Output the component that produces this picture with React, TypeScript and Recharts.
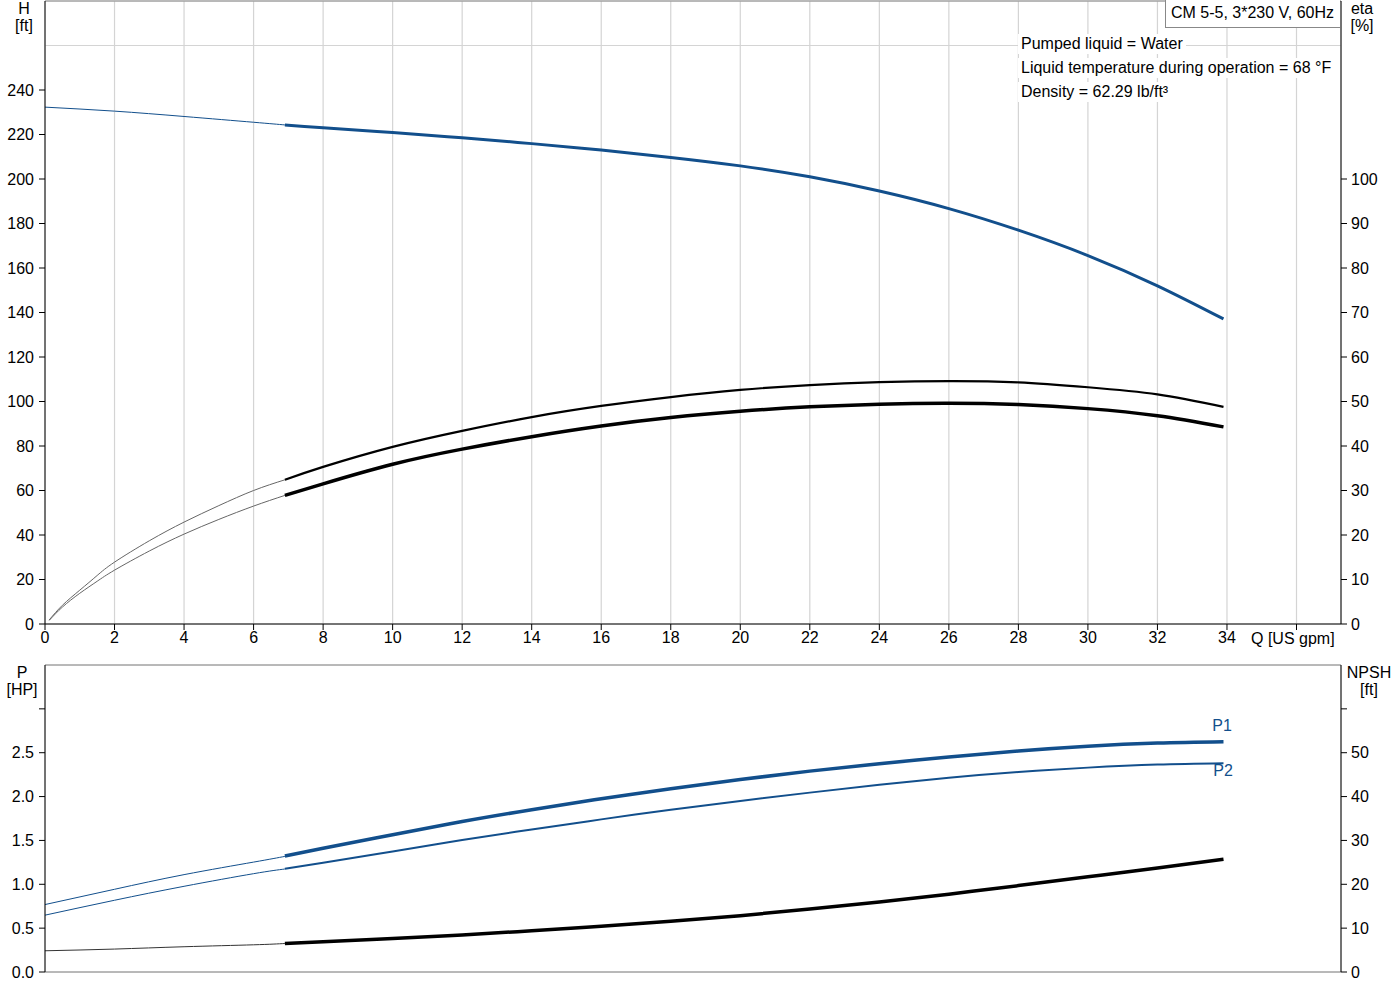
import React from "react";
import {
  LineChart,
  Line,
  XAxis,
  YAxis,
  CartesianGrid,
  ReferenceLine,
} from "recharts";

// Flow (US gpm)
const qTicks = [0, 2, 4, 6, 8, 10, 12, 14, 16, 18, 20, 22, 24, 26, 28, 30, 32, 34, 36];
const qStart = [0, 2, 4, 6, 6.9];
const qStartEta = [0.12, 0.5, 1, 1.5, 2, 3, 4, 5, 6, 6.9];
const qDuty = [6.9, 8, 10, 12, 14, 16, 18, 20, 22, 24, 26, 28, 30, 32, 33.9];

// Head H [ft]
const headStart = [232.3, 230.5, 228.1, 225.5, 224.3];
const headDuty = [224.3, 223.0, 220.9, 218.5, 215.9, 213.0, 209.7, 205.9, 201.0, 194.6, 186.7, 177.0, 165.6, 152.0, 137.1];

// Efficiency eta [%]
const etaPumpStart = [0.9, 4.2, 7.6, 10.9, 13.9, 18.7, 22.9, 26.6, 30.0, 32.4];
const etaPumpDuty = [32.4, 35.3, 39.8, 43.4, 46.5, 49.0, 51.0, 52.6, 53.7, 54.35, 54.6, 54.3, 53.2, 51.6, 48.8];
const etaTotalStart = [0.8, 3.8, 6.9, 9.6, 12.1, 16.4, 20.2, 23.5, 26.5, 28.9];
const etaTotalDuty = [28.9, 31.5, 35.9, 39.3, 42.1, 44.5, 46.4, 47.8, 48.8, 49.4, 49.6, 49.3, 48.4, 46.8, 44.3];

// Power P [HP]
const p1Start = [0.769, 0.943, 1.11, 1.253, 1.318];
const p1Duty = [1.322, 1.41, 1.565, 1.715, 1.85, 1.975, 2.09, 2.195, 2.29, 2.375, 2.45, 2.52, 2.575, 2.61, 2.625];
const p2Start = [0.648, 0.818, 0.977, 1.121, 1.174];
const p2Duty = [1.176, 1.245, 1.375, 1.505, 1.625, 1.74, 1.85, 1.95, 2.045, 2.135, 2.215, 2.28, 2.33, 2.365, 2.38];

// NPSH [ft]
const npshStart = [4.84, 5.23, 5.76, 6.2, 6.5];
const npshDuty = [6.5, 6.9, 7.65, 8.45, 9.4, 10.45, 11.55, 12.85, 14.35, 15.95, 17.75, 19.7, 21.7, 23.7, 25.7];

const headTicks = [0, 20, 40, 60, 80, 100, 120, 140, 160, 180, 200, 220, 240];
const etaTicks = [0, 10, 20, 30, 40, 50, 60, 70, 80, 90, 100];
const powerTicks = [0, 0.5, 1, 1.5, 2, 2.5, 3];
const npshTicks = [0, 10, 20, 30, 40, 50, 60];

const infoLines = [
  "Pumped liquid = Water",
  "Liquid temperature during operation = 68 °F",
  "Density = 62.29 lb/ft³",
];

const BLUE = "#124f8c";
const GRID = "#d4d4d4";
const FONT = "'Liberation Sans', Arial, sans-serif";
const Q_MAX = 37.28;

const pts = (q: number[], v: number[]) => q.map((x, i) => ({ q: x, v: v[i] }));

const tickStyle = { fill: "#000", fontSize: 16, fontFamily: FONT };

function Label({ x, y, children, align = "center", color = "#000" }: any) {
  return (
    <div
      style={{
        position: "absolute",
        left: x,
        top: y,
        transform: align === "center" ? "translateX(-50%)" : undefined,
        fontSize: 16,
        lineHeight: "17px",
        color,
        whiteSpace: "nowrap",
        textAlign: "center",
      }}
    >
      {children}
    </div>
  );
}

export default function App(): React.ReactElement {
  return (
    <div
      style={{
        position: "absolute",
        left: 0,
        top: 0,
        width: 1400,
        height: 1000,
        background: "#fff",
        fontFamily: FONT,
      }}
    >
      {/* Head / efficiency */}
      <div style={{ position: "absolute", left: 0, top: 0 }}>
        <LineChart width={1400} height={660} margin={{ top: 1, right: 0, bottom: 0, left: 0 }}>
          <CartesianGrid stroke={GRID} strokeWidth={1.2} />
          <XAxis
            dataKey="q"
            type="number"
            domain={[0, Q_MAX]}
            ticks={qTicks}
            interval={0}
            allowDataOverflow
            height={36}
            stroke="#000"
            tick={tickStyle}
            tickSize={6}
            tickMargin={2}
            tickFormatter={(v: number) => (v > 34 ? "" : String(v))}
          />
          <YAxis
            yAxisId="h"
            orientation="left"
            width={45}
            domain={[0, 280]}
            ticks={headTicks}
            interval={0}
            allowDataOverflow
            stroke="#000"
            tick={tickStyle}
            tickSize={6}
            tickMargin={5}
          />
          <YAxis
            yAxisId="eta"
            orientation="right"
            width={59}
            domain={[0, 140]}
            ticks={etaTicks}
            interval={0}
            allowDataOverflow
            stroke="#000"
            tick={tickStyle}
            tickSize={6}
            tickMargin={4}
          />
          <ReferenceLine yAxisId="h" y={260} stroke={GRID} strokeWidth={1.2} />
          <ReferenceLine yAxisId="h" y={280} stroke="#888" />
          <Line data={pts(qStart, headStart)} yAxisId="h" dataKey="v" type="natural" stroke={BLUE} strokeWidth={1} dot={false} isAnimationActive={false} />
          <Line data={pts(qDuty, headDuty)} yAxisId="h" dataKey="v" type="natural" stroke={BLUE} strokeWidth={3} dot={false} isAnimationActive={false} />
          <Line data={pts(qStartEta, etaPumpStart)} yAxisId="eta" dataKey="v" type="natural" stroke="#666" strokeWidth={1} dot={false} isAnimationActive={false} />
          <Line data={pts(qDuty, etaPumpDuty)} yAxisId="eta" dataKey="v" type="natural" stroke="#000" strokeWidth={2.2} dot={false} isAnimationActive={false} />
          <Line data={pts(qStartEta, etaTotalStart)} yAxisId="eta" dataKey="v" type="natural" stroke="#666" strokeWidth={1} dot={false} isAnimationActive={false} />
          <Line data={pts(qDuty, etaTotalDuty)} yAxisId="eta" dataKey="v" type="natural" stroke="#000" strokeWidth={3.5} dot={false} isAnimationActive={false} />
        </LineChart>
      </div>

      {/* Power / NPSH */}
      <div style={{ position: "absolute", left: 0, top: 660 }}>
        <LineChart width={1400} height={330} margin={{ top: 5, right: 0, bottom: 10, left: 0 }}>
          <CartesianGrid stroke={GRID} strokeWidth={1.2} />
          <XAxis
            dataKey="q"
            type="number"
            domain={[0, Q_MAX]}
            ticks={qTicks}
            interval={0}
            allowDataOverflow
            height={8}
            stroke="#888"
            tick={false}
            tickLine={false}
          />
          <YAxis
            yAxisId="p"
            orientation="left"
            width={45}
            domain={[0, 3.5]}
            ticks={powerTicks}
            interval={0}
            allowDataOverflow
            stroke="#000"
            tick={tickStyle}
            tickSize={6}
            tickMargin={5}
            tickFormatter={(v: number) => (v > 2.5 ? "" : v.toFixed(1))}
          />
          <YAxis
            yAxisId="npsh"
            orientation="right"
            width={59}
            domain={[0, 70]}
            ticks={npshTicks}
            interval={0}
            allowDataOverflow
            stroke="#000"
            tick={tickStyle}
            tickSize={6}
            tickMargin={4}
            tickFormatter={(v: number) => (v > 50 ? "" : String(v))}
          />
          <ReferenceLine yAxisId="p" y={3.5} stroke="#888" />
          <Line data={pts(qStart, p1Start)} yAxisId="p" dataKey="v" type="natural" stroke={BLUE} strokeWidth={1} dot={false} isAnimationActive={false} />
          <Line data={pts(qDuty, p1Duty)} yAxisId="p" dataKey="v" type="natural" stroke={BLUE} strokeWidth={3.5} dot={false} isAnimationActive={false} />
          <Line data={pts(qStart, p2Start)} yAxisId="p" dataKey="v" type="natural" stroke={BLUE} strokeWidth={1} dot={false} isAnimationActive={false} />
          <Line data={pts(qDuty, p2Duty)} yAxisId="p" dataKey="v" type="natural" stroke={BLUE} strokeWidth={2} dot={false} isAnimationActive={false} />
          <Line data={pts(qStart, npshStart)} yAxisId="npsh" dataKey="v" type="natural" stroke="#333" strokeWidth={1} dot={false} isAnimationActive={false} />
          <Line data={pts(qDuty, npshDuty)} yAxisId="npsh" dataKey="v" type="natural" stroke="#000" strokeWidth={3.5} dot={false} isAnimationActive={false} />
        </LineChart>
      </div>

      {/* Axis titles */}
      <Label x={24} y={0}>H<br />[ft]</Label>
      <Label x={1362} y={0}>eta<br />[%]</Label>
      <Label x={1251} y={630} align="left">Q [US gpm]</Label>
      <Label x={22} y={664}>P<br />[HP]</Label>
      <Label x={1369} y={664}>NPSH<br />[ft]</Label>
      <Label x={1222} y={717} color={BLUE}>P1</Label>
      <Label x={1223} y={762} color={BLUE}>P2</Label>

      {/* Pump title box */}
      <div
        style={{
          position: "absolute",
          left: 1165,
          top: -1,
          width: 175,
          height: 29,
          border: "1px solid #888",
          borderRight: "none",
          background: "#fff",
          fontSize: 16,
          lineHeight: "26px",
          paddingLeft: 5,
          boxSizing: "border-box",
          whiteSpace: "nowrap",
        }}
      >
        CM 5-5, 3*230 V, 60Hz
      </div>

      {/* Liquid info */}
      {infoLines.map((t, i) => (
        <div
          key={t}
          style={{
            position: "absolute",
            left: 1018,
            top: 34 + i * 24,
            padding: "1px 3px",
            background: "#fff",
            fontSize: 16,
            lineHeight: "18px",
            whiteSpace: "nowrap",
          }}
        >
          {t}
        </div>
      ))}
    </div>
  );
}
